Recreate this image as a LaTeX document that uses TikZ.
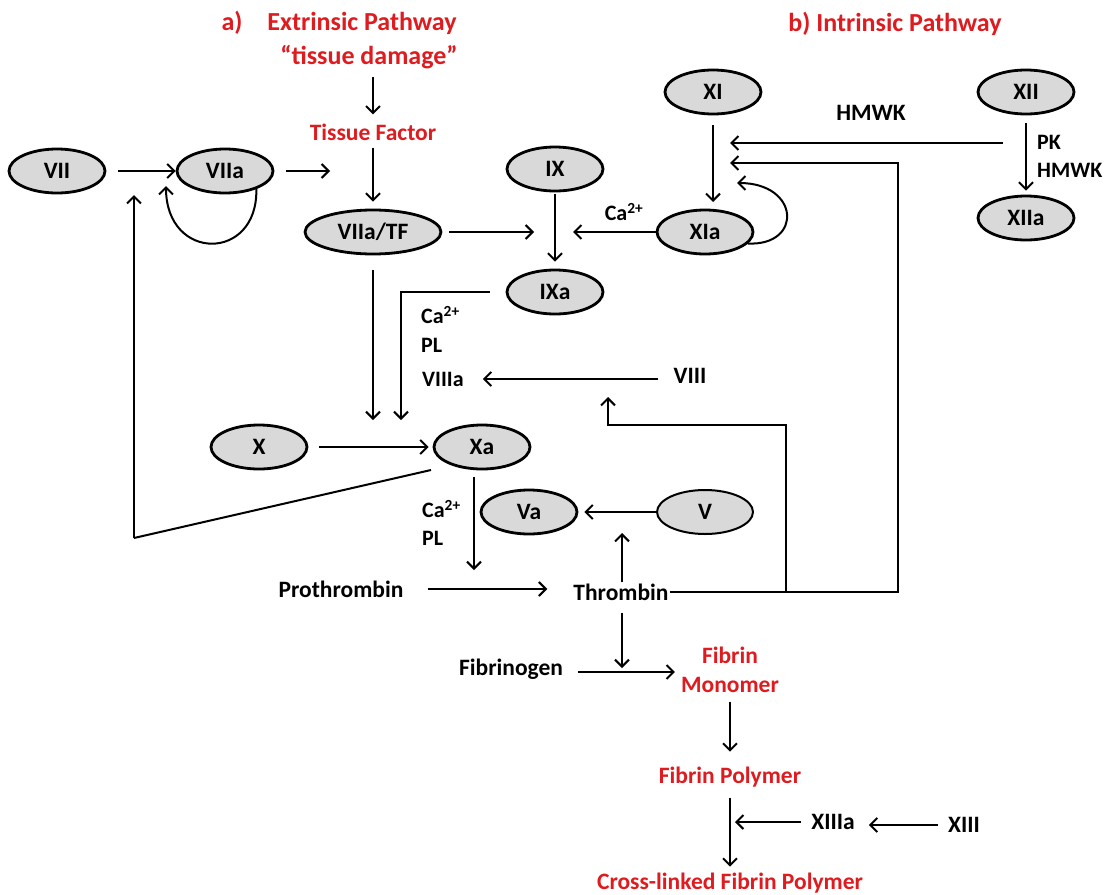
\documentclass[tikz,border=0pt]{standalone}
\usepackage{fontspec}
\setmainfont{Carlito}
\usetikzlibrary{shapes.geometric,arrows.meta}
\definecolor{myred}{RGB}{222,28,32}
\definecolor{ellfill}{RGB}{217,217,217}
\newcommand\fmain{\fontsize{23.5}{28.5}\selectfont\bfseries}
\newcommand\fsml{\fontsize{22}{26}\selectfont\bfseries}
\newcommand\ftitle{\fontsize{26}{30}\selectfont\bfseries}
\begin{document}
\begin{tikzpicture}[x=1pt,y=-1pt,
  fac/.style={ellipse, draw, line width=2.8pt, fill=ellfill, minimum width=96pt, minimum height=44pt, inner sep=0pt, font=\fmain},
  facthin/.style={fac, line width=2pt},
  lab/.style={inner sep=1pt, font=\fmain},
  slab/.style={inner sep=1pt, font=\fsml, anchor=west},
  redlab/.style={lab, text=myred},
  ttl/.style={inner sep=1pt, font=\ftitle, text=myred},
  arr/.style={-{Straight Barb[length=7pt,width=14pt]}, line width=2pt},
  ln/.style={line width=2pt}]
\useasboundingbox[fill=white] (0,0) rectangle (1116,894);

% titles
\node[ttl] (ta) at (232,23) {a)};
\node[ttl] (tb) at (362,23) {Extrinsic Pathway};
\node[ttl] (tdmg) at (369,57) {“tissue damage”};
\node[ttl] (tin) at (895,24) {b) Intrinsic Pathway};

% extrinsic
\node[redlab] (tf) at (373,132) {Tissue Factor};
\draw[arr, shorten <=7pt, shorten >=8pt] (tdmg.south -| tf.north) -- (tf.north);
\node[fac] (vii) at (57,171) {VII};
\node[fac] (viia) at (225,171) {VIIa};
\node[fac, minimum width=136pt] (viiatf) at (373,232) {VIIa/TF};
\draw[arr, shorten <=6pt, shorten >=7pt] (tf) -- (viiatf);
\draw[arr, shorten <=12pt] (vii) -- (viia);
\coordinate (ja) at (330,171);
\draw[arr, shorten <=12pt] (viia) -- (ja);
\coordinate (ja2) at (166,186);
\draw[arr] (viia.-30) .. controls (258,262) and (166,262) .. (ja2);
\coordinate (jb) at (534,232);
\draw[arr, shorten <=7pt] (viiatf) -- (jb);
\coordinate (jc) at (373,420);
\draw[arr, shorten <=15pt] (viiatf) -- (jc);

% IX
\node[fac] (ix) at (555,169) {IX};
\node[fac] (ixa) at (555,292) {IXa};
\draw[arr, shorten <=2pt, shorten >=7pt] (ix) -- (ixa);
\coordinate (jd) at (401,420);
\draw[arr, shorten <=16pt] (ixa.west) -| (jd);
\node[slab] (ca1) at (420,315) {Ca\textsuperscript{2+}};
\node[slab] (pl1) at (420,345) {PL};
\node[slab] (viiia) at (421,379) {VIIIa};
\node[lab] (viii) at (690,376) {VIII};
\draw[arr, shorten <=14pt, shorten >=18pt] (viii.west |- viiia.east) -- (viiia.east);

% XI
\node[fac] (xi) at (713,92) {XI};
\node[fac] (xia) at (705,232) {XIa};
\coordinate (je) at (713,202);
\draw[arr, shorten <=10pt] (xi) -- (je);
\coordinate (jf) at (573,232);
\draw[arr] (xia) -- (jf);
\node[lab, font=\fsml] (ca3) at (624,212) {Ca\textsuperscript{2+}};
\coordinate (jg) at (737,183);
\draw[arr] (xia.-15) .. controls (803,246) and (800,183) .. (jg);

% XII
\node[fac] (xii) at (1026,92) {XII};
\node[fac] (xiia) at (1026,218) {XIIa};
\draw[arr, shorten <=8pt, shorten >=4pt] (xii) -- (xiia);
\node[slab] (pk) at (1036,142) {PK};
\node[slab] (hmwk2) at (1036,170) {HMWK};
\node[lab] (hmwk) at (871,113) {HMWK};
\coordinate (h1) at (1003,143);
\coordinate (h2) at (730,143);
\draw[arr] (h1) -- (h2);

% X
\node[fac] (x) at (259,447) {X};
\node[fac] (xa) at (482,447) {Xa};
\draw[arr, shorten <=11pt, shorten >=4pt] (x) -- (xa);
\coordinate (xs) at (431,470);
\coordinate (b1) at (134,538);
\coordinate (b2) at (134,195);
\draw[ln] (xs) -- (b1);
\draw[arr] (b1) -- (b2);
\coordinate (xd) at (474,570);
\draw[arr, shorten <=7pt] ([xshift=-8pt]xa.south) -- (xd);
\node[slab] (ca2) at (421,509) {Ca\textsuperscript{2+}};
\node[slab] (pl2) at (421,538) {PL};

% V
\node[fac] (va) at (529,512) {Va};
\node[facthin] (v) at (705,512) {V};
\draw[arr, shorten >=6pt] (v) -- (va);

% thrombin
\node[lab] (pro) at (341,589) {Prothrombin};
\node[lab] (thr) at (621,592) {Thrombin};
\draw[arr, shorten <=23pt, shorten >=25pt] (pro.east) -- (pro.east -| thr.west);
\coordinate (tu) at (622,533);
\draw[arr] (thr.north -| tu) -- (tu);
\coordinate (k1) at (898,163);
\coordinate (k2) at (730,163);
\draw[arr] (thr.east) -| (k1) -- (k2);
\coordinate (m1) at (786,592);
\coordinate (m2) at (608,425);
\coordinate (m3) at (608,397);
\draw[arr] (m1) |- (m2) -- (m3);

% fibrin
\node[lab] (fbg) at (511,669) {Fibrinogen};
\node[redlab, align=center] (fmon) at (730,670) {Fibrin\\Monomer};
\coordinate (tf2) at (622,668);
\draw[arr, shorten <=11pt] (thr.south -| tf2) -- (tf2);
\draw[arr, shorten <=14pt, shorten >=5pt] ([yshift=-3pt]fbg.east) -- ([yshift=-3pt]fbg.east -| fmon.west);
\node[redlab] (fpol) at (730,777) {Fibrin Polymer};
\draw[arr, shorten <=8pt, shorten >=14pt] (fmon) -- (fpol);
\node[redlab] (xl) at (730,883) {Cross-linked Fibrin Polymer};
\draw[arr, shorten <=10pt, shorten >=5pt] (fpol) -- (xl);
\node[lab] (x13a) at (833,822) {XIIIa};
\node[lab] (x13) at (964,825) {XIII};
\coordinate (xj) at (735,822);
\draw[arr, shorten <=9pt] (x13a) -- (xj);
\draw[arr, shorten <=9pt, shorten >=13pt] (x13.west) -- (x13.west -| x13a.east);
\end{tikzpicture}
\end{document}
